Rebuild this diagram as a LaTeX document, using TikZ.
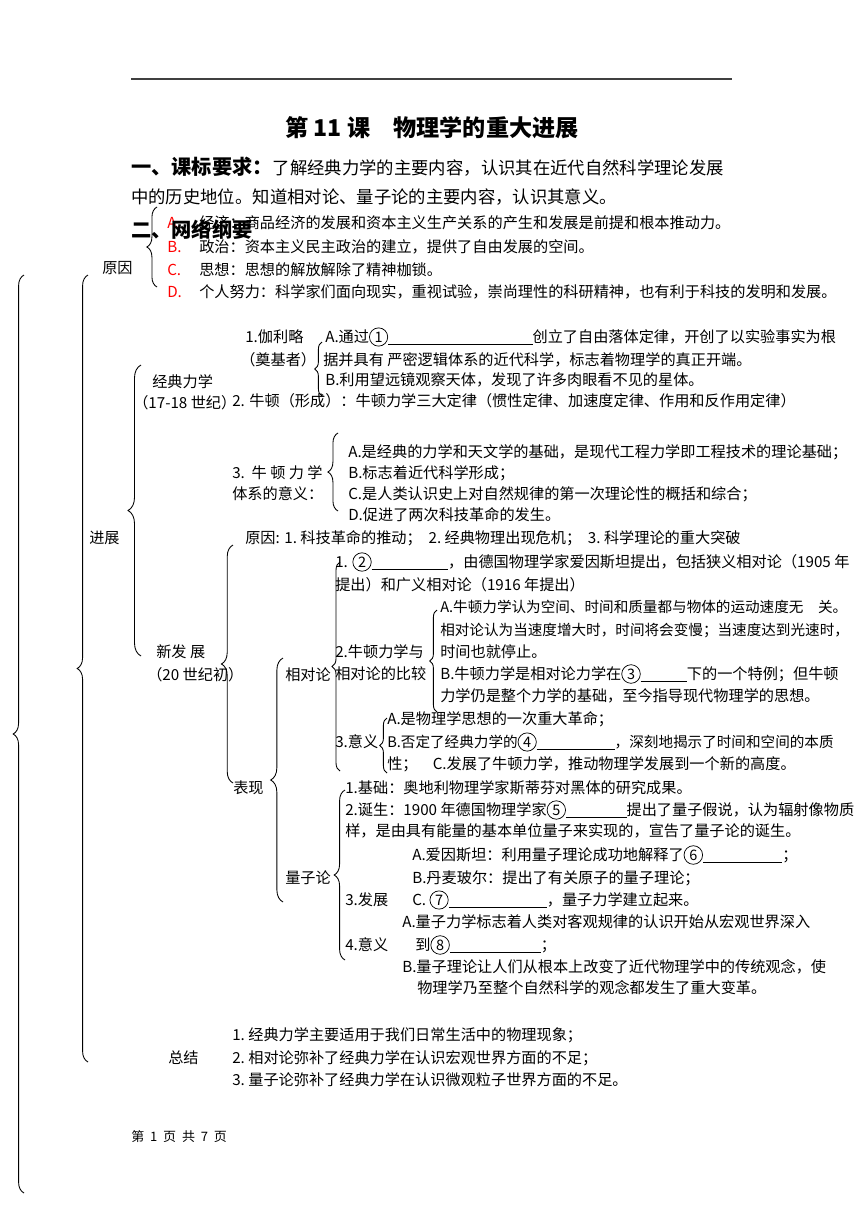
\documentclass[tikz,border=0pt]{standalone}
\usepackage{fontspec}
\setmainfont{Noto Sans CJK SC}
\usepackage{tikz}
\usetikzlibrary{positioning,decorations.pathreplacing}
\newcommand{\blank}[1]{\underline{\hspace{#1}}}
\newcommand{\cn}[1]{\tikz[baseline=(cn.base)]\node[circle, draw, line width=0.5pt, inner sep=1.3pt,
  minimum size=11pt, anchor=center, font=\fontsize{10pt}{11pt}\selectfont] (cn) {#1};}
\tikzset{
  txt/.style     = {anchor=west, inner sep=0pt, font=\fontsize{10.5pt}{12pt}\selectfont},
  tight/.style   = {txt, font=\fontsize{10.1pt}{12pt}\selectfont},
  redno/.style   = {txt, text=red},
  head/.style    = {anchor=west, inner sep=0pt, font=\fontsize{14pt}{16pt}\selectfont\bfseries},
  big/.style     = {anchor=west, inner sep=0pt, font=\fontsize{12pt}{14pt}\selectfont},
  brc/.style     = {decorate, decoration={brace, amplitude=#1}, line width=0.6pt, black},
  brc/.default   = 7.5pt,
}

\begin{document}
\begin{tikzpicture}[x=0.692pt, y=-0.692pt]
  \useasboundingbox (0,0) rectangle (860,1216);
  \fill[white] (0,0) rectangle (860,1216);

  % page head
  \coordinate (ruleL) at (131,79); \coordinate (ruleR) at (732,79);
  \draw[line width=1.1pt, black!75] (ruleL) -- (ruleR);
  \node[inner sep=0pt, font=\fontsize{16pt}{18pt}\selectfont\bfseries] (title) at (432,128)
       {第 11 课\quad 物理学的重大进展};
  \node[head] (req1) at (131,167)
       {一、课标要求：\mdseries\fontsize{12pt}{14pt}\selectfont 了解经典力学的主要内容，认识其在近代自然科学理论发展};
  \node[big] (req2) at (131,197) {中的历史地位。知道相对论、量子论的主要内容，认识其意义。};

  % 原因
  \node[redno] (yA) at (167,223) {A.};
  \node[txt] (yAt) at (199,223) {经济：商品经济的发展和资本主义生产关系的产生和发展是前提和根本推动力。};
  \node[head] (net) at (131,230) {二、网络纲要};
  \node[redno] (yB) at (167,247) {B.};
  \node[txt] (yBt) at (199,247) {政治：资本主义民主政治的建立，提供了自由发展的空间。};
  \node[redno] (yC) at (167,270) {C.};
  \node[txt] (yCt) at (199,270) {思想：思想的解放解除了精神枷锁。};
  \node[redno] (yD) at (167,292) {D.};
  \node[txt] (yDt) at (199,292) {个人努力：科学家们面向现实，重视试验，崇尚理性的科研精神，也有利于科技的发明和发展。};

  \node[txt] (lbYY) at (102,268) {原因};
  \node[txt] (lbJZ) at (89,538) {进展};
  \node[txt] (lbZJ) at (168,1058) {总结};

  % 经典力学
  \node[txt] (jd1) at (152,382) {经典力学};
  \node[txt] (jd2) at (133,403) {（17-18 世纪）};
  \node[txt] (gl1) at (245,337) {1.伽利略};
  \node[txt] (gl2) at (240,360) {（奠基者）};
  \node[txt] (glA1) at (325,337) {A.通过\cn{1}\blank{100pt}创立了自由落体定律，开创了以实验事实为根};
  \node[txt] (glA2) at (323,360) {据并具有 严密逻辑体系的近代科学，标志着物理学的真正开端。};
  \node[txt] (glB) at (325,380) {B.利用望远镜观察天体，发现了许多肉眼看不见的星体。};
  \node[txt] (nd2) at (232,401) {2. 牛顿（形成）：牛顿力学三大定律（惯性定律、加速度定律、作用和反作用定律）};
  \node[txt] (nd3a) at (232,473) {3.\ \ 牛\ 顿\ 力\ 学};
  \node[txt] (nd3b) at (232,494) {体系的意义：};
  \node[txt] (ndA) at (348,452) {A.是经典的力学和天文学的基础，是现代工程力学即工程技术的理论基础；};
  \node[txt] (ndB) at (348,473) {B.标志着近代科学形成；};
  \node[txt] (ndC) at (348,494) {C.是人类认识史上对自然规律的第一次理论性的概括和综合；};
  \node[txt] (ndD) at (348,515) {D.促进了两次科技革命的发生。};

  % 新发展
  \node[txt] (xf1) at (156,652) {新发 展};
  \node[txt] (xf2) at (147,675) {（20 世纪初）};
  \node[txt] (xyy) at (245,538) {原因: 1.\ 科技革命的推动；\ \ 2.\ 经典物理出现危机；\ \ 3.\ 科学理论的重大突破};
  \node[txt] (bx) at (233,788) {表现};
  \node[txt] (xdl) at (285,675) {相对论};
  \node[txt] (lzl) at (285,878) {量子论};

  \node[txt] (x1a) at (335,562) {1. \cn{2}\blank{53pt}，由德国物理学家爱因斯坦提出，包括狭义相对论（1905 年};
  \node[txt] (x1b) at (335,585) {提出）和广义相对论（1916 年提出）};
  \node[tight] (x2A1) at (440,607) {A.牛顿力学认为空间、时间和质量都与物体的运动速度无　关。};
  \node[tight] (x2A2) at (440,630) {相对论认为当速度增大时，时间将会变慢；当速度达到光速时，};
  \node[txt] (x2A3) at (440,652) {时间也就停止。};
  \node[txt] (x2a) at (335,652) {2.牛顿力学与};
  \node[txt] (x2b) at (335,674) {相对论的比较};
  \node[txt] (x2B1) at (440,674) {B.牛顿力学是相对论力学在\cn{3}\blank{32pt}下的一个特例；但牛顿};
  \node[txt] (x2B2) at (440,696) {力学仍是整个力学的基础，至今指导现代物理学的思想。};
  \node[txt] (x3A) at (387,719) {A.是物理学思想的一次重大革命；};
  \node[txt] (x3) at (335,742) {3.意义};
  \node[tight] (x3B) at (387,742) {B.否定了经典力学的\cn{4}\blank{54pt}，深刻地揭示了时间和空间的本质};
  \node[txt] (x3C) at (387,764) {性；　C.发展了牛顿力学，推动物理学发展到一个新的高度。};

  \node[txt] (q1) at (345,788) {1.基础：奥地利物理学家斯蒂芬对黑体的研究成果。};
  \node[txt] (q2a) at (345,810) {2.诞生：1900 年德国物理学家\cn{5}\blank{42pt}提出了量子假说，认为辐射像物质};
  \node[txt] (q2b) at (345,831) {样，是由具有能量的基本单位量子来实现的，宣告了量子论的诞生。};
  \node[txt] (q3A) at (412,855) {A.爱因斯坦：利用量子理论成功地解释了\cn{6}\blank{55pt}；};
  \node[txt] (q3B) at (412,878) {B.丹麦玻尔：提出了有关原子的量子理论；};
  \node[txt] (q3) at (345,900) {3.发展};
  \node[txt] (q3C) at (412,900) {C. \cn{7}\blank{68pt}，量子力学建立起来。};
  \node[txt] (q4A) at (402,922) {A.量子力学标志着人类对客观规律的认识开始从宏观世界深入};
  \node[txt] (q4) at (345,945) {4.意义};
  \node[txt] (q4x) at (415,945) {到\cn{8}\blank{63pt}；};
  \node[txt] (q4B1) at (402,967) {B.量子理论让人们从根本上改变了近代物理学中的传统观念，使};
  \node[txt] (q4B2) at (417,988) {物理学乃至整个自然科学的观念都发生了重大变革。};

  % 总结
  \node[txt] (zj1) at (232,1035) {1.\ 经典力学主要适用于我们日常生活中的物理现象；};
  \node[txt] (zj2) at (232,1058) {2.\ 相对论弥补了经典力学在认识宏观世界方面的不足；};
  \node[txt] (zj3) at (232,1080) {3.\ 量子论弥补了经典力学在认识微观粒子世界方面的不足。};

  \node[txt, font=\fontsize{9pt}{10pt}\selectfont] (foot) at (131,1137)
       {第\hspace{0.45em}1\hspace{0.45em}页\hspace{0.45em}共\hspace{0.45em}7\hspace{0.45em}页};

  % braces
  \coordinate (allT) at (24,275);   \coordinate (allB) at (24,1193);
  \coordinate (lv1T) at (88,275);   \coordinate (lv1B) at (88,1062);
  \coordinate (yyT) at (157,207);   \coordinate (yyB) at (157,287);
  \coordinate (jzT) at (141,365);   \coordinate (jzB) at (141,656);
  \coordinate (glT) at (322,342);   \coordinate (glB2) at (322,396);
  \coordinate (ndT) at (338,433);   \coordinate (ndB2) at (338,511);
  \coordinate (xfT) at (233,545);   \coordinate (xfB) at (233,783);
  \coordinate (bxT) at (283,658);   \coordinate (bxB) at (283,902);
  \coordinate (xdT) at (340,562);   \coordinate (xdB) at (340,771);
  \coordinate (bjT) at (437,610);   \coordinate (bjB) at (437,712);
  \coordinate (yiT) at (387,718);   \coordinate (yiB) at (387,773);
  \coordinate (lzT) at (345,790);   \coordinate (lzB) at (345,960);

  \draw[brc=7.5pt] (allB) -- (allT);
  \draw[brc=7.5pt] (lv1B) -- (lv1T);
  \draw[brc=7pt] (yyB) -- (yyT);
  \draw[brc=9pt] (jzB) -- (jzT);
  \draw[brc=5pt] (glB2) -- (glT);
  \draw[brc=7pt] (ndB2) -- (ndT);
  \draw[brc=8pt] (xfB) -- (xfT);
  \draw[brc=8.5pt] (bxB) -- (bxT);
  \draw[brc=5.5pt] (xdB) -- (xdT);
  \draw[brc=5pt] (bjB) -- (bjT);
  \draw[brc=5pt] (yiB) -- (yiT);
  \draw[brc=7.5pt] (lzB) -- (lzT);
\end{tikzpicture}
\end{document}
